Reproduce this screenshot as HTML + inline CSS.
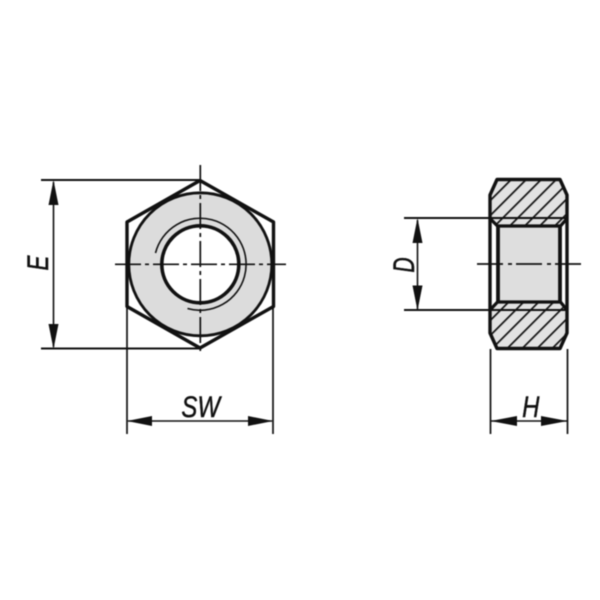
<!DOCTYPE html>
<html><head><meta charset="utf-8"><style>html,body{margin:0;padding:0;background:#fff}svg{display:block;filter:blur(.4px)}text{font-family:"Liberation Sans",sans-serif;font-style:italic;fill:#111;stroke:#111;stroke-width:.35px}</style></head><body>
<svg width="600" height="600" viewBox="0 0 600 600" xmlns="http://www.w3.org/2000/svg">
<defs><clipPath id="c1"><path d="M497 180H560L567 195V217.500H490V195Z"/></clipPath><clipPath id="c2"><path d="M490 310.500H567V333L560 348H497L490 333Z"/></clipPath><clipPath id="c3"><path d="M490 218L497.500 226H560L567 218Z"/></clipPath><clipPath id="c4"><path d="M490 310L497.500 302H560L567 310Z"/></clipPath>
<pattern id="h" width="10.600" height="10.600" patternUnits="userSpaceOnUse" patternTransform="rotate(45 0 0)"><rect width="10.600" height="10.600" fill="#e2e2e2"/><rect x="0" width="1.700" height="10.600" fill="#111"/></pattern>
</defs>
<!-- front -->
<circle cx="200.300" cy="264.300" r="71.500" fill="#dcdcdc" stroke="#111" stroke-width="2.800"/>
<circle cx="200.300" cy="264.300" r="38.500" fill="#fff" stroke="#111" stroke-width="3.600"/>
<path d="M155.500 253A46 46 0 1 1 187.500 308.500" fill="none" stroke="#111" stroke-width="1.600"/>
<path d="M200 180.500L273.500 222V306.500L200 348L127 306.500V222Z" fill="none" stroke="#111" stroke-width="3.400" stroke-linejoin="round"/>
<g stroke="#111" fill="none">
<path d="M115 264.300H286" stroke-width="1.700" stroke-dasharray="26 4 4 4"/>
<path d="M200.300 165V352" stroke-width="1.700" stroke-dasharray="26 4 4 4"/>
<path d="M41 180H200M41 348.500H200" stroke-width="1.900"/>
<path d="M127 307V434M273 307V434" stroke-width="1.700"/>
<path d="M53.500 182V347" stroke-width="1.600"/>
<path d="M128 421H272" stroke-width="1.600"/>
</g>
<path d="M53.500 180L58.500 205H48.500ZM53.500 349L58.500 324H48.500Z" fill="#111"/>
<path d="M127 421L152 416V426ZM273 421L248 416V426Z" fill="#111"/>
<!-- side -->
<rect x="498" y="226" width="62" height="76" fill="#dedede"/>
<rect x="490" y="180" width="78" height="38" fill="url(#h)" clip-path="url(#c1)"/>
<rect x="490" y="310" width="78" height="39" fill="url(#h)" clip-path="url(#c2)"/>
<rect x="490" y="218" width="78" height="8" fill="url(#h)" clip-path="url(#c3)"/>
<rect x="490" y="302" width="78" height="8" fill="url(#h)" clip-path="url(#c4)"/>
<g stroke="#111" fill="none">
<path d="M497 179.500H560L567 195V333L560 348.500H497L490 333V195Z" stroke-width="3.400" stroke-linejoin="round"/>
<path d="M498 226V302M560 226V302" stroke-width="3.800"/>
<path d="M490 218.500L497.500 226H560.500L567 218.500M490 310L497.500 302H560.500L567 310" stroke-width="3.200"/>
<path d="M404 218H566M404 310H566" stroke-width="1.900"/>
<path d="M477 264H582" stroke-width="1.700" stroke-dasharray="26 5 4 4"/>
<path d="M490.500 349V434M567.500 349V434" stroke-width="1.700"/>
<path d="M417.500 220V309" stroke-width="1.600"/>
<path d="M491 421H567" stroke-width="1.600"/>
</g>
<path d="M417.500 218L422.500 243H412.500ZM417.500 310.500L422.500 285.500H412.500Z" fill="#111"/>
<path d="M490.500 421L517 416V426ZM567.500 421L541 416V426Z" fill="#111"/>
<!-- labels -->
<text transform="translate(220 417) scale(1 1.220)" text-anchor="end" font-size="24">SW</text>
<text transform="translate(539.500 417) scale(1 1.220)" text-anchor="end" font-size="24">H</text>
<text transform="translate(48 270.500) rotate(-90) scale(1.120 1.470)" font-size="20">E</text>
<text transform="translate(414 272.500) rotate(-90) scale(1.050 1.500)" font-size="20">D</text>
</svg>
</body></html>
